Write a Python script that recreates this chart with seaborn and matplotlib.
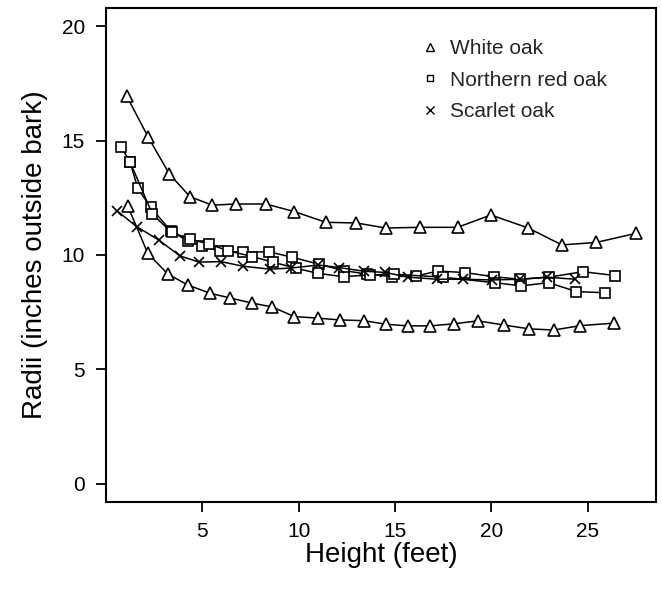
import matplotlib
matplotlib.use("Agg")
import matplotlib.pyplot as plt
from matplotlib.lines import Line2D
import seaborn as sns
import pandas as pd

# ---- data ----
white_upper_x = [1.08, 2.20, 3.29, 4.36, 5.51, 6.75, 8.30, 9.77, 11.41, 12.99, 14.53, 16.28,
                 18.25, 19.98, 21.89, 23.67, 25.45, 27.53]
white_upper_y = [16.94, 15.14, 13.54, 12.55, 12.18, 12.23, 12.23, 11.90, 11.43, 11.40, 11.18, 11.21,
                 11.21, 11.75, 11.19, 10.44, 10.55, 10.95]

white_lower_x = [1.13, 2.17, 3.21, 4.24, 5.39, 6.44, 7.57, 8.62, 9.77, 10.98, 12.14, 13.37,
                 14.55, 15.69, 16.83, 18.04, 19.31, 20.64, 21.97, 23.24, 24.62, 26.35]
white_lower_y = [12.14, 10.07, 9.17, 8.69, 8.33, 8.12, 7.90, 7.73, 7.31, 7.24, 7.16, 7.13,
                 6.97, 6.90, 6.90, 6.99, 7.12, 6.94, 6.77, 6.72, 6.91, 7.02]

red_a_x = [0.79, 1.25, 1.65, 2.32, 3.36, 4.24, 4.97, 5.92, 7.10, 8.45, 9.68, 11.08, 12.38,
           13.55, 14.87, 16.10, 17.23, 18.65, 20.12, 21.51, 22.98, 24.76, 26.44]
red_a_y = [14.73, 14.07, 12.91, 12.08, 11.06, 10.61, 10.39, 10.17, 10.12, 10.14, 9.90, 9.59, 9.31,
           9.17, 9.05, 9.08, 9.30, 9.23, 9.05, 8.94, 9.03, 9.27, 9.10]

red_b_x = [1.25, 2.41, 3.41, 4.36, 5.35, 6.32, 7.60, 8.69, 9.87, 10.98, 12.33, 13.68, 14.96,
           17.49, 20.17, 21.56, 22.98, 24.42, 25.89]
red_b_y = [14.07, 11.78, 10.99, 10.69, 10.48, 10.19, 9.93, 9.68, 9.42, 9.20, 9.05, 9.13, 9.16,
           9.03, 8.79, 8.65, 8.79, 8.40, 8.35]

scarlet_x = [0.59, 1.59, 2.73, 3.84, 4.83, 5.97, 7.10, 8.52, 9.59, 11.03, 12.10, 13.40, 14.46,
             15.70, 17.18, 18.53, 20.04, 21.51, 22.89, 24.36]
scarlet_y = [11.92, 11.24, 10.66, 9.96, 9.69, 9.71, 9.51, 9.38, 9.43, 9.56, 9.45, 9.29, 9.24,
             9.03, 8.94, 8.94, 8.91, 8.94, 9.03, 8.94]

legend_labels = ["White oak", "Northern red oak", "Scarlet oak"]
x_ticks = [5, 10, 15, 20, 25]
y_ticks = [0, 5, 10, 15, 20]

# ---- style ----
sns.set_theme(style="ticks")
plt.rcParams["font.family"] = ["Liberation Sans", "DejaVu Sans"]
FS = 15
FS_LAB = 20

fig = plt.figure(figsize=(6.62, 5.90), dpi=100)
ax = fig.add_axes([106 / 662, 1 - 502 / 590, (656 - 106) / 662, (502 - 8) / 590])

series = [
    (white_upper_x, white_upper_y, "^", 8.5),
    (white_lower_x, white_lower_y, "^", 8.5),
    (red_a_x, red_a_y, "s", 6.5),
    (red_b_x, red_b_y, "s", 6.5),
    (scarlet_x, scarlet_y, "x", 7.5),
]
for xs, ys, mk, ms in series:
    df = pd.DataFrame({"x": xs, "y": ys})
    kw = dict(markerfacecolor="white", markeredgecolor="black", markeredgewidth=1.2)
    if mk == "x":
        kw = dict(markeredgecolor="black", markeredgewidth=1.2)
    sns.lineplot(data=df, x="x", y="y", ax=ax, color="black", linewidth=1.1,
                 marker=mk, markersize=ms, sort=False, estimator=None, **kw)

ax.set_xlim(0, 28.55)
ax.set_ylim(-0.8, 20.8)
ax.set_xticks(x_ticks)
ax.set_yticks(y_ticks)
ax.set_xticklabels([str(t) for t in x_ticks])
ax.set_yticklabels([str(t) for t in y_ticks])
for s in ax.spines.values():
    s.set_visible(True)
    s.set_linewidth(1.5)
    s.set_color("black")
ax.tick_params(direction="out", length=7.2, width=1.3, colors="black", labelsize=FS)
ax.tick_params(axis="x", pad=7)
ax.tick_params(axis="y", pad=8)
ax.set_xlabel("Height (feet)", fontsize=FS_LAB, color="black", va="center")
ax.set_ylabel("Radii (inches outside bark)", fontsize=FS_LAB, color="black", va="center")
ax.xaxis.set_label_coords(0.5, -(555 - 502) / 494)
ax.yaxis.set_label_coords((35 - 106) / 550, 0.5)

handles = [
    Line2D([], [], linestyle="none", marker="^", markersize=6, markerfacecolor="white",
           markeredgecolor="black", markeredgewidth=1.0),
    Line2D([], [], linestyle="none", marker="s", markersize=5, markerfacecolor="white",
           markeredgecolor="black", markeredgewidth=1.0),
    Line2D([], [], linestyle="none", marker="x", markersize=5.5, markeredgecolor="black",
           markeredgewidth=1.0),
]
ax.legend(handles, legend_labels, loc="upper left",
          bbox_to_anchor=(419.5 / 662, 1 - 39 / 590), bbox_transform=fig.transFigure,
          frameon=False, fontsize=FS, handletextpad=0.45, labelspacing=0.6,
          handlelength=1.0, borderpad=0, borderaxespad=0)

fig.savefig("out.png", dpi=100, facecolor="white")
